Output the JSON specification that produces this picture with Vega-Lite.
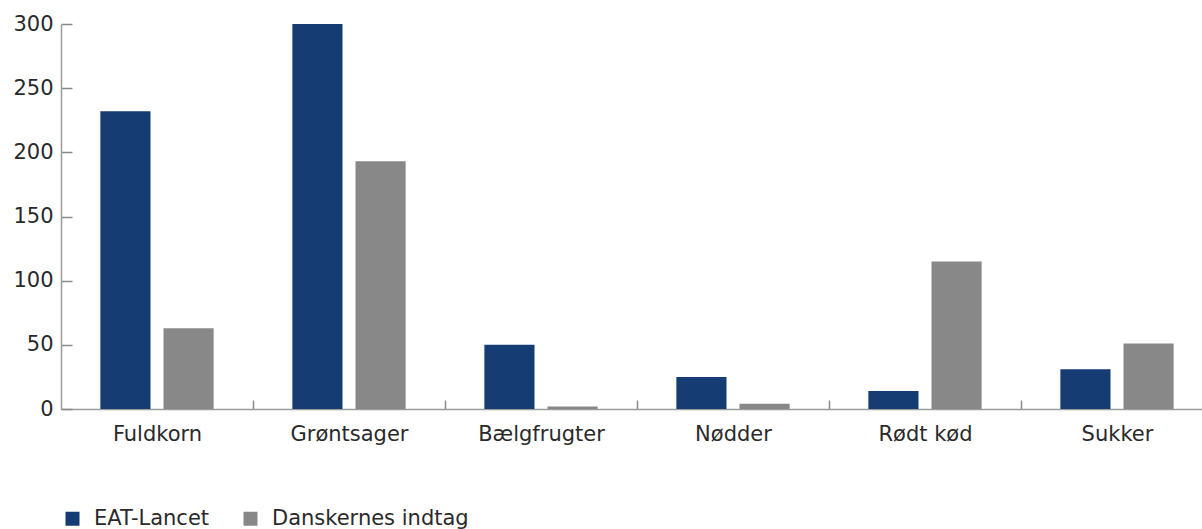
{
  "$schema": "https://vega.github.io/schema/vega-lite/v6.json",
  "width": 1141,
  "height": 385,
  "autosize": {"type": "none"},
  "padding": {"left": 61, "top": 24, "right": 0, "bottom": 120},
  "background": "white",
  "config": {
    "view": {"stroke": null},
    "font": "DejaVu Sans",
    "axis": {"labelFont": "DejaVu Sans", "labelColor": "#2a2a2a", "domainColor": "#9a9a9a", "tickColor": "#8a8a8a", "domainWidth": 1.5, "tickWidth": 1.5, "grid": false, "title": null},
    "legend": {"labelFont": "DejaVu Sans", "labelColor": "#2a2a2a"}
  },
  "data": {
    "values": [
      {"kategori": "Fuldkorn", "serie": "EAT-Lancet", "vaerdi": 232},
      {"kategori": "Fuldkorn", "serie": "Danskernes indtag", "vaerdi": 63},
      {"kategori": "Grøntsager", "serie": "EAT-Lancet", "vaerdi": 300},
      {"kategori": "Grøntsager", "serie": "Danskernes indtag", "vaerdi": 193},
      {"kategori": "Bælgfrugter", "serie": "EAT-Lancet", "vaerdi": 50},
      {"kategori": "Bælgfrugter", "serie": "Danskernes indtag", "vaerdi": 2},
      {"kategori": "Nødder", "serie": "EAT-Lancet", "vaerdi": 25},
      {"kategori": "Nødder", "serie": "Danskernes indtag", "vaerdi": 4},
      {"kategori": "Rødt kød", "serie": "EAT-Lancet", "vaerdi": 14},
      {"kategori": "Rødt kød", "serie": "Danskernes indtag", "vaerdi": 115},
      {"kategori": "Sukker", "serie": "EAT-Lancet", "vaerdi": 31},
      {"kategori": "Sukker", "serie": "Danskernes indtag", "vaerdi": 51}
    ]
  },
  "encoding": {
    "x": {
      "field": "kategori",
      "type": "nominal",
      "sort": ["Fuldkorn", "Grøntsager", "Bælgfrugter", "Nødder", "Rødt kød", "Sukker"],
      "scale": {"range": [0, 1152], "paddingInner": 0.41, "paddingOuter": 0.205},
      "axis": {"labelAngle": 0, "labelFontSize": 21, "ticks": true, "tickSize": -9, "tickOffset": 96, "labelOffset": -96, "labelPadding": 23, "labelBaseline": "top"}
    },
    "xOffset": {
      "field": "serie",
      "type": "nominal",
      "sort": ["EAT-Lancet", "Danskernes indtag"],
      "scale": {"paddingInner": 0.206, "paddingOuter": 0}
    },
    "color": {
      "field": "serie",
      "type": "nominal",
      "sort": ["EAT-Lancet", "Danskernes indtag"],
      "scale": {"domain": ["EAT-Lancet", "Danskernes indtag"], "range": ["#163d73", "#888888"]},
      "legend": {"title": null, "orient": "none", "legendX": 1, "legendY": 484, "direction": "horizontal", "symbolType": "square", "symbolSize": 196, "symbolStrokeWidth": 0, "labelFontSize": 21, "labelOffset": 11, "labelLimit": 0, "columnPadding": 30}
    }
  },
  "layer": [
    {
      "mark": {"type": "bar", "opacity": 0},
      "encoding": {
        "y": {
          "field": "vaerdi",
          "type": "quantitative",
          "scale": {"domain": [0, 300], "nice": false},
          "axis": {"orient": "right", "offset": -1141, "values": [0, 50, 100, 150, 200, 250, 300], "domain": false, "labels": false, "ticks": true, "tickSize": 11}
        }
      }
    },
    {
      "mark": {"type": "bar"},
      "encoding": {
        "y": {
          "field": "vaerdi",
          "type": "quantitative",
          "scale": {"domain": [0, 300], "nice": false},
          "axis": {"orient": "left", "values": [0, 50, 100, 150, 200, 250, 300], "labelFontSize": 21, "ticks": false, "labelPadding": 8}
        }
      }
    }
  ],
  "resolve": {"scale": {"y": "independent"}, "axis": {"y": "independent"}}
}
